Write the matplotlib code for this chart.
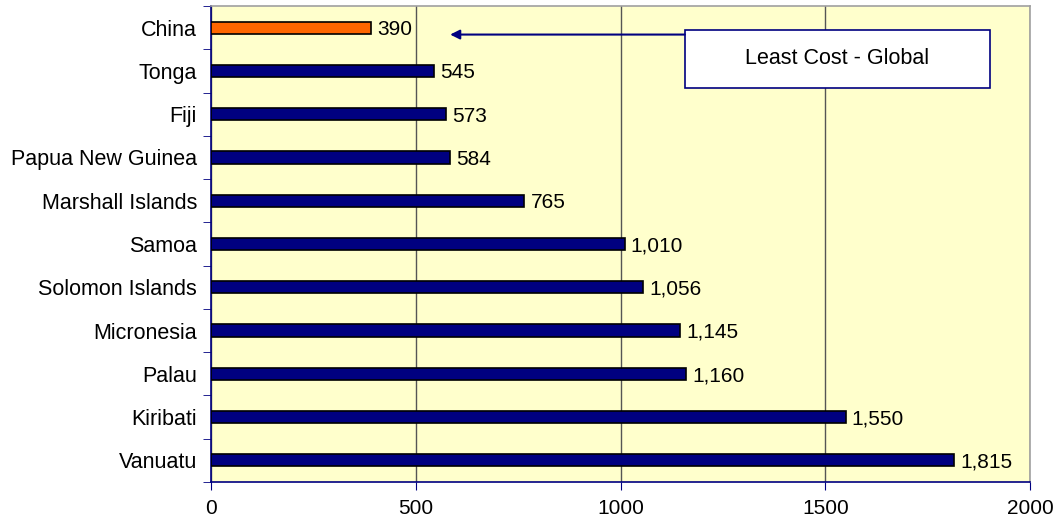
import numpy as np
import matplotlib
matplotlib.use('Agg')
import matplotlib.pyplot as plt
from matplotlib.patches import Rectangle

plt.rcParams['font.family'] = ['Liberation Sans', 'DejaVu Sans']

countries = ['China', 'Tonga', 'Fiji', 'Papua New Guinea', 'Marshall Islands',
             'Samoa', 'Solomon Islands', 'Micronesia', 'Palau', 'Kiribati',
             'Vanuatu']
costs = [390, 545, 573, 584, 765, 1010, 1056, 1145, 1160, 1550, 1815]
bar_colors = ['#FF6600'] + ['#000080'] * 10
xticks = [0, 500, 1000, 1500, 2000]

navy = '#000080'

fig = plt.figure(figsize=(10.58, 5.25), dpi=100)
ax = fig.add_axes([211/1058, 1 - 482/525, (1030-211)/1058, (482-6)/525])
ax.set_facecolor('#FFFFCC')

y = np.arange(len(countries))
ax.barh(y, costs, height=0.28, color=bar_colors, edgecolor='black',
        linewidth=1.2, zorder=3)
for yi, v in zip(y, costs):
    ax.text(v + 15, yi + 0.17, f'{v:,}', va='baseline', ha='left',
            fontsize=15, zorder=4)

ax.set_ylim(len(countries) - 0.5, -0.5)
ax.set_xlim(0, 2000)
ax.set_yticks(y)
ax.set_yticklabels(countries, fontsize=15.5)
ax.set_yticks(np.arange(-0.5, len(countries), 1), minor=True)
ax.tick_params(axis='y', which='major', length=0, pad=10)
ax.tick_params(axis='y', which='minor', length=6, color=navy, direction='out')
ax.set_xticks(xticks)
ax.set_xticklabels([str(t) for t in xticks], fontsize=15)
ax.tick_params(axis='x', length=6, color=navy, pad=6)

ax.grid(axis='x', color='#555555', linewidth=1, zorder=1)
for s in ['left', 'bottom']:
    ax.spines[s].set_color(navy)
    ax.spines[s].set_linewidth(1.2)
for s in ['top', 'right']:
    ax.spines[s].set_color('#A0A0A0')
    ax.spines[s].set_linewidth(1.2)

# annotation box and arrow
box = Rectangle((1157, 0.05), 745, 1.34, facecolor='white', edgecolor=navy,
                linewidth=1.2, zorder=5)
ax.add_patch(box)
ax.text(1157 + 745/2, 0.05 + 1.34/2, 'Least Cost - Global', ha='center',
        va='center', fontsize=15.5, zorder=6)
ax.annotate('', xy=(584, 0.16), xytext=(1157, 0.16),
            arrowprops=dict(arrowstyle='-|>', color=navy, lw=1.5,
                            mutation_scale=14, shrinkA=0, shrinkB=0),
            zorder=6)

fig.savefig('out.png', dpi=100)
